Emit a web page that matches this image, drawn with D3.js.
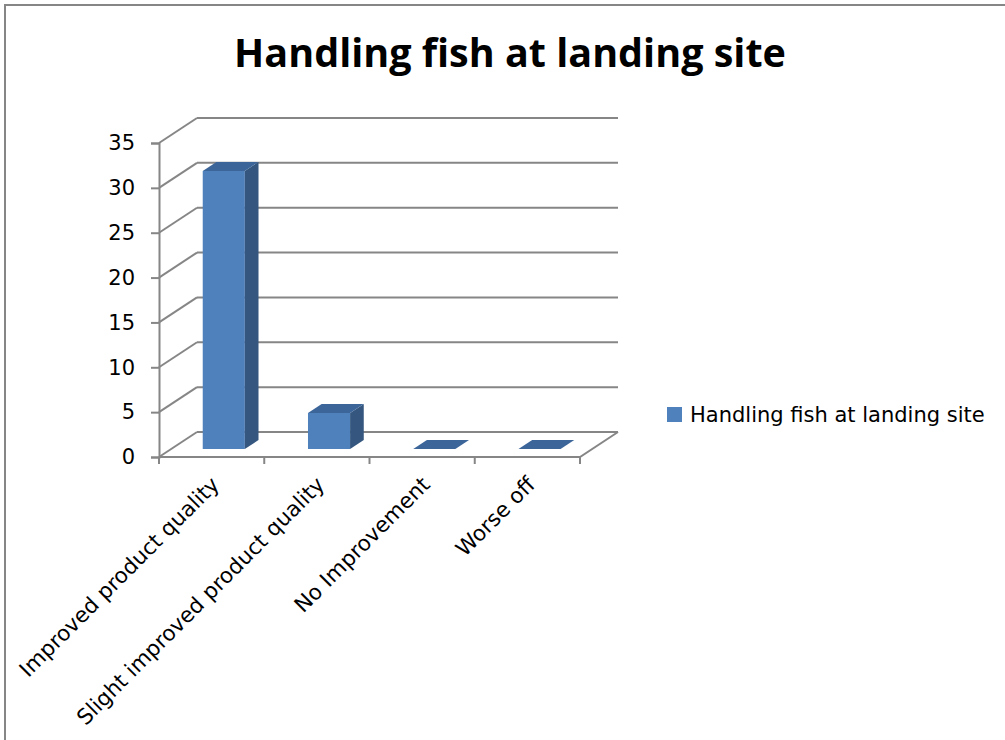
<!DOCTYPE html>
<html>
<head>
<meta charset="utf-8">
<script src="https://cdn.jsdelivr.net/npm/d3@7"></script>
<style>
  html, body { margin: 0; padding: 0; background: #fff; }
  svg { display: block; }
  text { font-family: "DejaVu Sans", sans-serif; fill: #000; }
</style>
</head>
<body>
<svg id="chart" width="1005" height="740"></svg>
<script>
// Chart data
const title = "Handling fish at landing site";
const seriesName = "Handling fish at landing site";
const categories = ["Improved product quality", "Slight improved product quality", "No Improvement", "Worse off"];
const values = [31, 4, 0, 0];
const yTicks = [0, 5, 10, 15, 20, 25, 30, 35];

const font = "'DejaVu Sans', sans-serif";
const titleFont = "'Open Sans', 'Noto Sans', sans-serif";
const svg = d3.select("#chart");

// Frame around the chart area
svg.append("rect")
  .attr("x", 5).attr("y", 5)
  .attr("width", 1010).attr("height", 760)
  .attr("fill", "#fff")
  .attr("stroke", "#868686")
  .attr("stroke-width", 2);

// Front plane of the 3D box
const plot = { left: 159, right: 580, top: 143, bottom: 457 };
const depth = { dx: 38, dy: -25 };          // offset from front plane to back wall
const barDepth = [0.32, 0.68];              // bar front/back as fractions of the depth

const y = d3.scaleLinear().domain([0, 35]).range([plot.bottom, plot.top]);
const xTicks = d3.scaleBand().domain(categories).range([plot.left, plot.right]);
const xBars = d3.scaleBand().domain(categories).range([plot.left, plot.right])
  .paddingInner(0.6).paddingOuter(0.3);

const grid = "#868686";
const g = svg.append("g");

// Back wall gridlines and side wall diagonals
yTicks.forEach(t => {
  const yy = y(t);
  g.append("line")
    .attr("x1", plot.left + depth.dx).attr("y1", yy + depth.dy)
    .attr("x2", plot.right + depth.dx).attr("y2", yy + depth.dy)
    .attr("stroke", grid).attr("stroke-width", 2);
  g.append("line")
    .attr("x1", plot.left).attr("y1", yy)
    .attr("x2", plot.left + depth.dx).attr("y2", yy + depth.dy)
    .attr("stroke", grid).attr("stroke-width", 2);
});

// Floor front and right edges
g.append("path")
  .attr("d", `M${plot.left},${plot.bottom}L${plot.right},${plot.bottom}L${plot.right + depth.dx},${plot.bottom + depth.dy}`)
  .attr("fill", "none").attr("stroke", grid).attr("stroke-width", 2);

// Vertical value axis
const yAxis = d3.axisLeft(y).tickValues(yTicks).tickSize(8).tickPadding(16);
const yAxisG = svg.append("g")
  .attr("transform", `translate(${plot.left},0)`)
  .call(yAxis);
yAxisG.select(".domain").attr("stroke", grid).attr("stroke-width", 2);
yAxisG.selectAll(".tick line").attr("stroke", grid).attr("stroke-width", 2);
yAxisG.selectAll(".tick text")
  .style("font-family", font)
  .attr("font-size", 21).attr("fill", "#000");

// Category tick marks below the floor
const xTickPos = categories.map(c => xTicks(c)).concat([plot.right]);
svg.append("g").selectAll("line").data(xTickPos).join("line")
  .attr("x1", d => d).attr("x2", d => d)
  .attr("y1", plot.bottom).attr("y2", plot.bottom + 7)
  .attr("stroke", grid).attr("stroke-width", 2);

// 3D bars
const colFront = "#4F81BD", colSide = "#35577F", colTop = "#3C659A";
const bars = svg.append("g");
categories.forEach((c, i) => {
  const v = values[i];
  const fx = depth.dx * barDepth[0], fy = depth.dy * barDepth[0];
  const bx = depth.dx * barDepth[1], by = depth.dy * barDepth[1];
  const x0 = xBars(c) + fx, x1 = xBars(c) + xBars.bandwidth() + fx;
  const yb = y(0) + fy, yt = y(v) + fy;
  const ox = bx - fx, oy = by - fy;
  const bg = bars.append("g");
  if (v > 0) {
    bg.append("path") // front
      .attr("d", `M${x0},${yb}L${x1},${yb}L${x1},${yt}L${x0},${yt}Z`)
      .attr("fill", colFront);
    bg.append("path") // right side
      .attr("d", `M${x1},${yb}L${x1 + ox},${yb + oy}L${x1 + ox},${yt + oy}L${x1},${yt}Z`)
      .attr("fill", colSide);
  }
  bg.append("path") // top
    .attr("d", `M${x0},${yt}L${x1},${yt}L${x1 + ox},${yt + oy}L${x0 + ox},${yt + oy}Z`)
    .attr("fill", colTop);
});

// Rotated category labels
svg.append("g").selectAll("text").data(categories).join("text")
  .attr("transform", c => `translate(${xTicks(c) + xTicks.bandwidth() / 2 + 9},${plot.bottom + 29}) rotate(-45)`)
  .attr("text-anchor", "end")
  .attr("font-size", 21.5)
  .text(c => c);

// Title
svg.append("text")
  .attr("x", 510).attr("y", 67)
  .attr("text-anchor", "middle")
  .style("font-family", titleFont)
  .attr("font-size", 39.5)
  .attr("font-weight", "bold")
  .text(title);

// Legend
const lg = svg.append("g").attr("transform", "translate(667,407)");
lg.append("rect").attr("width", 15).attr("height", 15).attr("fill", colFront);
lg.append("text").attr("x", 23).attr("y", 15).attr("font-size", 21).text(seriesName);
</script>
</body>
</html>
